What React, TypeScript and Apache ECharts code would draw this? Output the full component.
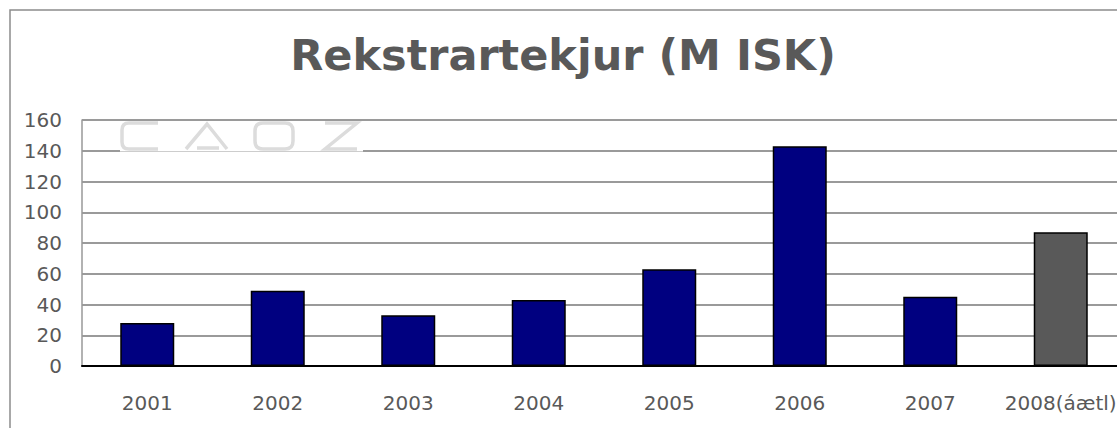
import React, { useEffect, useRef } from "react";
import * as echarts from "echarts";

const categories = ["2001", "2002", "2003", "2004", "2005", "2006", "2007", "2008(áætl)"];
const revenue = [28, 49, 33, 43, 63, 143, 45, 87];
const barColors = ["#000080", "#000080", "#000080", "#000080", "#000080", "#000080", "#000080", "#595959"];
const yTicks = { min: 0, max: 160, interval: 20 };
const titleText = "Rekstrartekjur (M ISK)";

const logoPath =
  "M39,3 L10,3 Q3,3 3,10 L3,22 Q3,29 10,29 L39,29 " +
  "M67,29 L88,4 L108,29 M78,28 L100,28 " +
  "M144,3 L166,3 Q174,3 174,11 L174,21 Q174,29 166,29 L144,29 Q136,29 136,21 L136,11 Q136,3 144,3 Z " +
  "M206,3 L238,3 L206,29 L238,29";

let registered = false;

export default function App() {
  const ref = useRef<HTMLDivElement>(null);
  useEffect(() => {
    if (!registered) {
      echarts.graphic.registerShape("logo", echarts.graphic.extendPath(logoPath, {}));
      registered = true;
    }
    const chart = echarts.init(ref.current!, null, { renderer: "svg" });
    chart.setOption({
      animation: false,
      backgroundColor: "#ffffff",
      title: {
        text: titleText,
        left: 558,
        top: 28,
        textAlign: "center",
        textStyle: {
          fontFamily: "DejaVu Sans",
          fontWeight: "bold",
          fontSize: 43,
          color: "#595959",
        },
      },
      grid: { left: 82, right: 24, top: 120, bottom: 62 },
      xAxis: {
        type: "category",
        data: categories,
        axisLine: { lineStyle: { color: "#000000", width: 2 } },
        axisTick: { show: false },
        axisLabel: {
          fontFamily: "DejaVu Sans",
          fontSize: 20,
          color: "#595959",
          margin: 27,
          interval: 0,
        },
      },
      yAxis: {
        type: "value",
        min: yTicks.min,
        max: yTicks.max,
        interval: yTicks.interval,
        axisLine: { show: true, lineStyle: { color: "#999999", width: 1.5 } },
        axisTick: { show: false },
        splitLine: { lineStyle: { color: "#9a9a9a", width: 2 } },
        axisLabel: {
          fontFamily: "DejaVu Sans",
          fontSize: 20,
          color: "#595959",
          margin: 20,
        },
      },
      series: [
        {
          type: "bar",
          barWidth: 54,
          data: revenue.map((v, i) => ({
            value: v,
            itemStyle: { color: barColors[i], borderColor: "#000000", borderWidth: 1.5 },
          })),
        },
      ],
      graphic: [
        {
          type: "rect",
          z: 100,
          shape: { x: 10, y: 10, width: 1300, height: 600 },
          style: { fill: "none", stroke: "#8c8c8c", lineWidth: 1.5 },
          silent: true,
        },
        {
          type: "rect",
          z: 100,
          shape: { x: 120, y: 121.5, width: 243, height: 30 },
          style: { fill: "#ffffff" },
          silent: true,
        },
        {
          type: "logo",
          z: 101,
          x: 119,
          y: 120,
          style: { fill: "none", stroke: "#dcdcdc", lineWidth: 3.5 },
          silent: true,
        },
      ],
    });
    return () => chart.dispose();
  }, []);
  return (
    <div
      style={{
        position: "fixed",
        left: 0,
        top: 0,
        width: 1117,
        height: 428,
        overflow: "hidden",
        background: "#fff",
      }}
    >
      <div ref={ref} style={{ width: 1150, height: 428 }} />
    </div>
  );
}
